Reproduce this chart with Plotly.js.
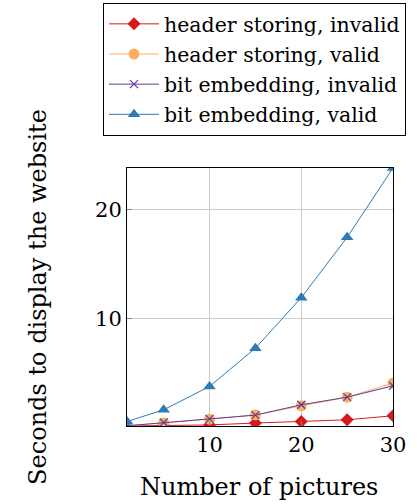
<!DOCTYPE html>
<html>
<head>
<meta charset="utf-8">
<script src="https://cdn.plot.ly/plotly-3.0.1.min.js"></script>
<style>html,body{margin:0;padding:0;background:#fff;}#chart{width:417px;height:504px;}</style>
</head>
<body>
<div id="chart"></div>
<script>
const pictures = [1, 5, 10, 15, 20, 25, 30];
const headerInvalid = [0.10, 0.15, 0.20, 0.37, 0.51, 0.67, 1.04];
const headerValid = [0.12, 0.37, 0.73, 1.13, 1.95, 2.75, 4.04];
const bitInvalid = [0.12, 0.42, 0.75, 1.10, 2.05, 2.75, 3.79];
const bitValid = [0.51, 1.59, 3.73, 7.25, 11.89, 17.43, 23.8];
const seriesNames = ["header storing, invalid", "header storing, valid", "bit embedding, invalid", "bit embedding, valid"];
const xTicks = [10, 20, 30];
const yTicks = [10, 20];

const FONT = "DejaVu Serif";
const colors = ["#d7191c", "#fdae61", "#5e3c99", "#2c7bb6"];
const symbols = ["diamond", "circle", "x-thin-open", "triangle-up"];
const sizes = [10, 11, 8, 11];
const data = [headerInvalid, headerValid, bitInvalid, bitValid].map((ys, i) => ({
  x: pictures, y: ys, name: seriesNames[i], type: "scatter", mode: "lines+markers", legendgroup: "g" + i,
  line: {color: colors[i], width: 1},
  marker: {color: colors[i], symbol: symbols[i], size: sizes[i], line: {color: colors[i], width: i === 2 ? 1.2 : 0}}
}));

const layout = {
  width: 417, height: 504,
  margin: {l: 127, r: 24, t: 168, b: 78, autoexpand: false},
  paper_bgcolor: "#fff", plot_bgcolor: "#fff",
  font: {family: FONT, size: 20, color: "#000"},
  showlegend: true,
  legend: {xref: "container", yref: "container", x: 0.247, y: 0.994, xanchor: "left", yanchor: "top",
    bordercolor: "#000", borderwidth: 1,
    font: {family: FONT, size: 20.5}, tracegroupgap: 0.5, itemwidth: 50},
  xaxis: {range: [1, 30], tickvals: xTicks, ticktext: xTicks.map(String), showgrid: true, gridcolor: "#cccccc",
    zeroline: false, showline: true, linecolor: "#000", linewidth: 1, mirror: true,
    ticks: "inside", ticklen: 5, tickcolor: "#888", tickfont: {family: FONT, size: 21}},
  yaxis: {range: [0.1, 23.8], tickvals: yTicks, ticktext: yTicks.map(String), showgrid: true, gridcolor: "#cccccc",
    zeroline: false, showline: true, linecolor: "#000", linewidth: 1, mirror: true,
    ticks: "inside", ticklen: 5, tickcolor: "#888", tickfont: {family: FONT, size: 21}},
  annotations: [
    {text: "Seconds to display the website", textangle: -90, xref: "paper", yref: "paper",
     x: -0.335, y: 0.5, xanchor: "center", yanchor: "middle", showarrow: false, font: {family: FONT, size: 24}},
    {text: "Number of pictures", xref: "paper", yref: "paper",
     x: 0.498, y: -0.236, xanchor: "center", yanchor: "middle", showarrow: false, font: {family: FONT, size: 24}}
  ]
};
Plotly.newPlot("chart", data, layout, {displayModeBar: false});
</script>
</body>
</html>
